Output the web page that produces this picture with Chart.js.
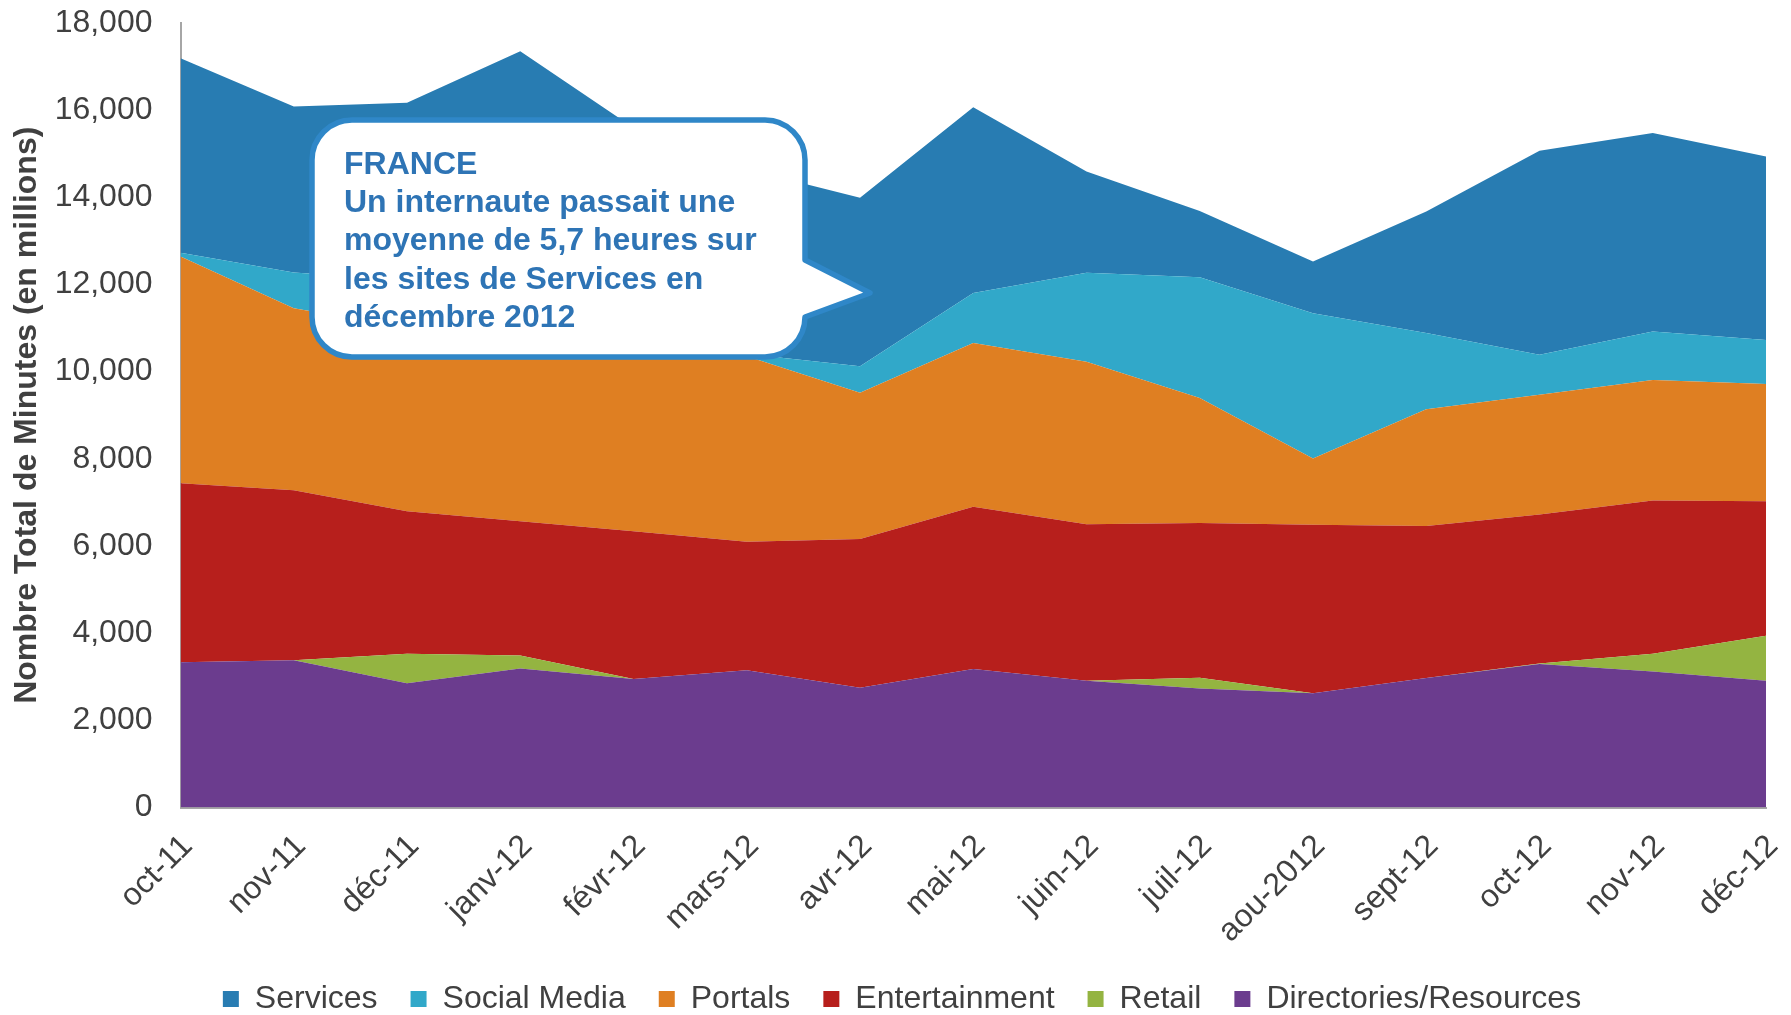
<!DOCTYPE html>
<html>
<head>
<meta charset="utf-8">
<title>Nombre Total de Minutes - France</title>
<script src="https://cdn.jsdelivr.net/npm/chart.js@4.4.1/dist/chart.umd.min.js"></script>
<style>
  html, body { margin: 0; padding: 0; background: #fff; }
  #wrap { width: 1791px; height: 1015px; }
</style>
</head>
<body>
<div id="wrap"><canvas id="myChart" width="1791" height="1015"></canvas></div>
<script>
// months on the x axis
var months = ['oct-11', 'nov-11', 'déc-11', 'janv-12', 'févr-12', 'mars-12', 'avr-12',
    'mai-12', 'juin-12', 'juil-12', 'aou-2012', 'sept-12', 'oct-12', 'nov-12', 'déc-12'];

// minutes (millions) per category, bottom of the stack first
var directories = [3330, 3380, 2850, 3190, 2950, 3150, 2750, 3180, 2910, 2730, 2620, 2970, 3290, 3120, 2910];
var retail = [0, 0, 680, 300, 0, 0, 0, 0, 0, 245, 0, 0, 15, 410, 1030];
var entertainment = [4110, 3900, 3270, 3080, 3390, 2950, 3410, 3720, 3590, 3555, 3870, 3490, 3415, 3515, 3085];
var portals = [5200, 4175, 4200, 4330, 4355, 4255, 3355, 3755, 3730, 2865, 1520, 2680, 2750, 2765, 2690];
var socialMedia = [90, 820, 1100, 800, 500, 50, 610, 1150, 2040, 2770, 3330, 1745, 920, 1110, 1010];
var services = [4460, 3810, 4070, 5650, 4400, 4240, 3865, 4260, 2320, 1520, 1185, 2790, 4680, 4555, 4210];

var yTicks = [0, 2000, 4000, 6000, 8000, 10000, 12000, 14000, 16000, 18000];

var calloutLines = ['FRANCE', 'Un internaute passait une', 'moyenne de 5,7 heures sur',
    'les sites de Services en', 'décembre 2012'];

var FONT = "'Liberation Sans', Arial, sans-serif";
var GREY = '#404040';

function area(label, data, color, fill) {
    return {
        label: label,
        data: data,
        backgroundColor: color,
        borderColor: color,
        borderWidth: 0,
        pointRadius: 0,
        pointHoverRadius: 0,
        tension: 0,
        fill: fill
    };
}

// speech bubble drawn over the plot
var calloutPlugin = {
    id: 'callout',
    afterDraw: function (chart) {
        var c = chart.ctx;
        var x1 = 312, y1 = 120, x2 = 805, y2 = 357, r = 40;
        var tipX = 870, tipY = 293, baseTop = 260, baseBottom = 317;
        c.save();
        c.beginPath();
        c.moveTo(x1 + r, y1);
        c.lineTo(x2 - r, y1);
        c.arcTo(x2, y1, x2, y1 + r, r);
        c.lineTo(x2, baseTop);
        c.lineTo(tipX, tipY);
        c.lineTo(x2, baseBottom);
        c.arcTo(x2, y2, x2 - r, y2, r);
        c.lineTo(x1 + r, y2);
        c.arcTo(x1, y2, x1, y2 - r, r);
        c.lineTo(x1, y1 + r);
        c.arcTo(x1, y1, x1 + r, y1, r);
        c.closePath();
        c.fillStyle = '#ffffff';
        c.fill();
        c.lineWidth = 5.5;
        c.lineJoin = 'round';
        c.strokeStyle = '#2f87c8';
        c.stroke();

        c.fillStyle = '#2e74b5';
        c.font = 'bold 32px ' + FONT;
        c.textBaseline = 'middle';
        c.textAlign = 'left';
        calloutLines.forEach(function (line, i) {
            c.fillText(line, 344, 165 + i * 38.3);
        });
        c.restore();
    }
};

var ctx = document.getElementById('myChart').getContext('2d');
var myChart = new Chart(ctx, {
    type: 'line',
    data: {
        labels: months,
        datasets: [
            area('Directories/Resources', directories, '#6b3c8e', 'origin'),
            area('Retail', retail, '#94b441', '-1'),
            area('Entertainment', entertainment, '#b71f1c', '-1'),
            area('Portals', portals, '#df7f22', '-1'),
            area('Social Media', socialMedia, '#31a8c9', '-1'),
            area('Services', services, '#287cb2', '-1')
        ]
    },
    options: {
        responsive: false,
        animation: false,
        events: [],
        layout: {
            padding: { top: 23, right: 25, bottom: -10, left: 38 }
        },
        plugins: {
            legend: {
                position: 'bottom',
                reverse: true,
                labels: {
                    boxWidth: 16,
                    boxHeight: 16,
                    padding: 33,
                    color: GREY,
                    font: { family: FONT, size: 32 }
                }
            },
            tooltip: { enabled: false },
            filler: { propagate: false }
        },
        scales: {
            x: {
                offset: false,
                grid: { display: false, drawTicks: false },
                border: { display: true, color: '#a6a6a6', width: 2 },
                ticks: {
                    color: GREY,
                    font: { family: FONT, size: 32 },
                    maxRotation: 45,
                    minRotation: 45,
                    padding: 20,
                    labelOffset: 7
                },
                afterFit: function (scale) {
                    scale.height = 142.5;
                    scale.paddingLeft = 0;
                    scale.paddingRight = 0;
                }
            },
            y: {
                stacked: true,
                min: 0,
                max: 18000,
                afterBuildTicks: function (scale) {
                    scale.ticks = yTicks.map(function (v) { return { value: v }; });
                },
                grid: { display: false, drawTicks: false },
                border: { display: true, color: '#a6a6a6', width: 2 },
                ticks: {
                    color: GREY,
                    padding: 28,
                    font: { family: FONT, size: 32 },
                    callback: function (v) { return v.toLocaleString('en-US'); }
                },
                title: {
                    display: true,
                    text: 'Nombre Total de Minutes (en millions)',
                    color: GREY,
                    font: { family: FONT, size: 32, weight: 'bold' },
                    padding: { top: -30, bottom: 0 }
                },
                afterFit: function (scale) {
                    scale.width = 142.5;
                    scale.paddingTop = 0;
                    scale.paddingBottom = 0;
                }
            }
        }
    },
    plugins: [calloutPlugin]
});
</script>
</body>
</html>
